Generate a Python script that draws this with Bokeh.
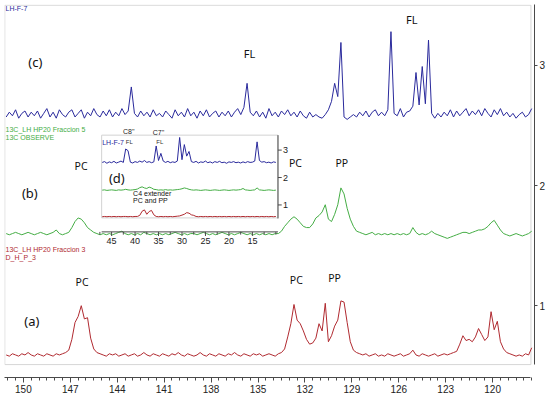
import numpy as np
from bokeh.plotting import figure
from bokeh.models import Range1d, FixedTicker
from bokeh.core.properties import value
from bokeh.embed import file_html
from bokeh.resources import INLINE

# ---------------- data ----------------
# main spectra: sampled every 0.2 ppm from 151.1 down to 117.5 ppm
ppm_first, ppm_step, ppm_count = 151.1, 0.2, 169

spec_c_blue = [
    2.57, 2.61, 2.58, 2.63, 2.56, 2.60, 2.62, 2.57, 2.61, 2.58,
    2.62, 2.56, 2.60, 2.64, 2.57, 2.61, 2.56, 2.63, 2.59, 2.57,
    2.61, 2.63, 2.57, 2.60, 2.63, 2.56, 2.61, 2.58, 2.64, 2.59,
    2.57, 2.62, 2.58, 2.63, 2.57, 2.61, 2.58, 2.64, 2.59, 2.62,
    2.82, 2.60, 2.57, 2.62, 2.58, 2.61, 2.57, 2.63, 2.58, 2.60,
    2.57, 2.62, 2.59, 2.56, 2.63, 2.58, 2.61, 2.57, 2.64, 2.58,
    2.61, 2.56, 2.62, 2.58, 2.63, 2.57, 2.60, 2.62, 2.57, 2.61,
    2.58, 2.62, 2.57, 2.61, 2.64, 2.59, 2.65, 2.85, 2.61, 2.58,
    2.62, 2.57, 2.61, 2.56, 2.64, 2.58, 2.61, 2.57, 2.62, 2.59,
    2.63, 2.58, 2.61, 2.57, 2.62, 2.58, 2.56, 2.61, 2.57, 2.59,
    2.57, 2.56, 2.59, 2.63, 2.70, 2.85, 2.74, 3.19, 2.57, 2.55,
    2.57, 2.59, 2.57, 2.61, 2.58, 2.62, 2.57, 2.61, 2.63, 2.58,
    2.61, 2.58, 2.63, 3.28, 2.60, 2.58, 2.64, 2.57, 2.61, 2.62,
    2.66, 2.94, 2.67, 2.99, 2.68, 3.21, 2.60, 2.56, 2.60, 2.57,
    2.61, 2.58, 2.63, 2.57, 2.62, 2.58, 2.61, 2.64, 2.58, 2.62,
    2.59, 2.63, 2.58, 2.64, 2.60, 2.57, 2.63, 2.59, 2.64, 2.58,
    2.61, 2.57, 2.60, 2.56, 2.59, 2.61, 2.57, 2.59, 2.64,
]

spec_b_green = [
    1.60, 1.59, 1.60, 1.61, 1.60, 1.59, 1.60, 1.61, 1.60, 1.59,
    1.60, 1.61, 1.60, 1.59, 1.60, 1.61, 1.63, 1.60, 1.59, 1.60,
    1.61, 1.65, 1.70, 1.73, 1.72, 1.69, 1.65, 1.63, 1.61, 1.60,
    1.59, 1.60, 1.59, 1.60, 1.59, 1.60, 1.61, 1.62, 1.60, 1.59,
    1.60, 1.59, 1.60, 1.59, 1.61, 1.60, 1.59, 1.60, 1.59, 1.60,
    1.59, 1.60, 1.59, 1.60, 1.61, 1.60, 1.59, 1.60, 1.59, 1.60,
    1.60, 1.59, 1.60, 1.61, 1.60, 1.59, 1.60, 1.59, 1.60, 1.61,
    1.60, 1.59, 1.60, 1.59, 1.60, 1.61, 1.60, 1.59, 1.60, 1.59,
    1.60, 1.59, 1.60, 1.59, 1.60, 1.59, 1.60, 1.60, 1.62, 1.66,
    1.69, 1.72, 1.74, 1.72, 1.69, 1.66, 1.65, 1.65, 1.68, 1.73,
    1.75, 1.78, 1.84, 1.72, 1.70, 1.76, 1.84, 1.98, 1.93, 1.81,
    1.72, 1.66, 1.62, 1.61, 1.60, 1.59, 1.60, 1.61, 1.59, 1.60,
    1.59, 1.60, 1.59, 1.60, 1.59, 1.60, 1.59, 1.60, 1.59, 1.60,
    1.65, 1.61, 1.59, 1.60, 1.59, 1.60, 1.62, 1.60, 1.59, 1.58,
    1.57, 1.56, 1.57, 1.58, 1.59, 1.60, 1.61, 1.61, 1.60, 1.61,
    1.62, 1.63, 1.63, 1.64, 1.66, 1.69, 1.71, 1.67, 1.63, 1.60,
    1.59, 1.58, 1.59, 1.60, 1.59, 1.58, 1.59, 1.60, 1.62,
]

spec_a_red = [
    0.59, 0.58, 0.60, 0.59, 0.58, 0.60, 0.59, 0.61, 0.59, 0.58,
    0.60, 0.59, 0.58, 0.60, 0.59, 0.58, 0.60, 0.59, 0.60, 0.61,
    0.63, 0.72, 0.86, 0.91, 1.00, 0.89, 0.90, 0.73, 0.64, 0.61,
    0.60, 0.59, 0.58, 0.60, 0.59, 0.60, 0.58, 0.59, 0.60, 0.58,
    0.59, 0.60, 0.58, 0.59, 0.61, 0.59, 0.58, 0.60, 0.59, 0.58,
    0.60, 0.59, 0.58, 0.60, 0.59, 0.61, 0.59, 0.58, 0.60, 0.59,
    0.58, 0.59, 0.61, 0.59, 0.58, 0.60, 0.59, 0.58, 0.60, 0.59,
    0.58, 0.60, 0.59, 0.61, 0.59, 0.58, 0.60, 0.59, 0.58, 0.60,
    0.59, 0.60, 0.58, 0.59, 0.60, 0.59, 0.58, 0.60, 0.61, 0.64,
    0.74, 0.85, 1.01, 0.88, 0.85, 0.79, 0.72, 0.68, 0.69, 0.73,
    0.85, 0.79, 1.02, 0.70, 0.75, 0.83, 0.88, 1.04, 1.03, 0.86,
    0.70, 0.63, 0.61, 0.60, 0.59, 0.60, 0.58, 0.59, 0.60, 0.58,
    0.59, 0.58, 0.60, 0.59, 0.58, 0.59, 0.60, 0.58, 0.59, 0.60,
    0.63, 0.59, 0.58, 0.60, 0.59, 0.58, 0.59, 0.60, 0.58, 0.59,
    0.60, 0.59, 0.60, 0.61, 0.62, 0.68, 0.75, 0.71, 0.72, 0.70,
    0.74, 0.81, 0.76, 0.71, 0.74, 0.95, 0.80, 0.87, 0.70, 0.64,
    0.61, 0.60, 0.59, 0.58, 0.59, 0.58, 0.60, 0.59, 0.65,
]

main_xticks = [150, 147, 144, 141, 138, 135, 132, 129, 126, 123, 120]
main_yticks = [1, 2, 3]

# inset (aliphatic region): sampled every 0.5 ppm from 47.0 down to 10.0 ppm
inset_first, inset_step, inset_count = 47.0, 0.5, 75

inset_blue = [
    2.55, 2.58, 2.52, 2.57, 2.54, 2.59, 2.53, 2.56, 2.60, 2.55,
    3.04, 2.98, 2.56, 2.53, 2.58, 2.55, 2.60, 2.56, 2.62, 2.55,
    2.58, 2.54, 2.57, 3.15, 2.62, 2.88, 2.60, 2.55, 2.59, 2.54,
    2.57, 2.55, 2.60, 3.46, 2.65, 3.20, 2.78, 2.95, 2.58, 2.55,
    2.59, 2.53, 2.57, 2.55, 2.60, 2.54, 2.57, 2.53, 2.58, 2.55,
    2.59, 2.54, 2.56, 2.52, 2.57, 2.55, 2.58, 2.54, 2.56, 2.53,
    2.57, 2.54, 2.58, 2.55, 2.56, 2.60, 3.30, 2.62, 2.56, 2.58,
    2.54, 2.56, 2.53, 2.57, 2.55,
]
inset_green = [
    1.54, 1.55, 1.53, 1.54, 1.55, 1.54, 1.53, 1.55, 1.54, 1.55,
    1.57, 1.55, 1.54, 1.55, 1.56, 1.58, 1.63, 1.66, 1.62, 1.60,
    1.65, 1.62, 1.57, 1.56, 1.54, 1.55, 1.54, 1.56, 1.54, 1.55,
    1.54, 1.55, 1.56, 1.57, 1.59, 1.62, 1.60, 1.57, 1.55, 1.54,
    1.55, 1.54, 1.53, 1.54, 1.55, 1.54, 1.53, 1.54, 1.55, 1.54,
    1.53, 1.54, 1.55, 1.54, 1.53, 1.54, 1.55, 1.54, 1.55, 1.56,
    1.60, 1.55, 1.54, 1.53, 1.54, 1.55, 1.62, 1.55, 1.54, 1.53,
    1.54, 1.55, 1.54, 1.53, 1.54,
]
inset_red = [
    0.57, 0.58, 0.57, 0.58, 0.57, 0.58, 0.57, 0.58, 0.57, 0.58,
    0.58, 0.57, 0.58, 0.57, 0.58, 0.58, 0.62, 0.77, 0.82, 0.66,
    0.76, 0.80, 0.64, 0.58, 0.57, 0.58, 0.57, 0.58, 0.57, 0.58,
    0.57, 0.58, 0.59, 0.60, 0.63, 0.66, 0.72, 0.70, 0.64, 0.62,
    0.58, 0.57, 0.58, 0.57, 0.58, 0.57, 0.58, 0.57, 0.58, 0.57,
    0.58, 0.57, 0.58, 0.57, 0.58, 0.57, 0.58, 0.57, 0.58, 0.57,
    0.58, 0.57, 0.58, 0.57, 0.58, 0.57, 0.58, 0.57, 0.58, 0.57,
    0.58, 0.57, 0.58, 0.57, 0.58,
]
inset_xticks = [45, 40, 35, 30, 25, 20, 15]
inset_xminor = [47.5, 42.5, 37.5, 32.5, 27.5, 22.5, 17.5, 12.5, 10]
inset_yticks = [1, 2, 3]

# ---------------- styling ----------------
BLUE, GREEN, RED = "#2a2a9c", "#45ad45", "#b02a30"
AX = "#4a4a4a"
F_TICK = value("Liberation Sans")
F_LAB = value("Noto Sans")

ppm = np.round(ppm_first - ppm_step * np.arange(ppm_count), 2)
ippm = np.round(inset_first - inset_step * np.arange(inset_count), 2)

X0, X1 = 151.208, 117.323
Y0, Y1 = 0.4025, 3.506

p = figure(width=548, height=396, x_range=Range1d(X0, X1), y_range=Range1d(Y0, Y1),
           y_axis_location="right", output_backend="svg", toolbar_location=None,
           min_border_left=4, min_border_right=12, min_border_top=4, min_border_bottom=19)
p.outline_line_color = None
p.grid.visible = False
p.background_fill_color = "white"
p.border_fill_color = "white"

xa = p.xaxis[0]
xa.ticker = FixedTicker(ticks=main_xticks, minor_ticks=list(np.arange(117.5, 151.01, 0.5)))
xa.bounds = (117.55, 151.2)
xa.axis_line_color = AX
xa.major_tick_line_color = AX
xa.minor_tick_line_color = AX
xa.major_tick_in = 0
xa.major_tick_out = 5
xa.minor_tick_in = 0
xa.minor_tick_out = 3
xa.major_label_standoff = 2
xa.major_label_text_font = "Liberation Sans"
xa.major_label_text_font_size = "10px"
xa.major_label_text_color = "#222222"

ya = p.yaxis[0]
ya.ticker = FixedTicker(ticks=main_yticks)
ya.bounds = (0.51, Y1)
ya.axis_line_color = AX
ya.major_tick_line_color = AX
ya.major_tick_in = 0
ya.major_tick_out = 3
ya.minor_tick_out = 0
ya.minor_tick_in = 0
ya.major_label_standoff = 2
ya.major_label_text_font = "Liberation Sans"
ya.major_label_text_font_size = "10px"
ya.major_label_text_color = "#222222"

# light frame of the main panel
p.quad(left=[151.19], right=[117.55], bottom=[0.51], top=[3.500],
       fill_color=None, line_color="#d6d6d6", line_width=1)

# main spectra
p.line(ppm, spec_c_blue, line_color=BLUE, line_width=1)
p.line(ppm, spec_b_green, line_color=GREEN, line_width=1)
p.line(ppm, spec_a_red, line_color=RED, line_width=1)


def lab(x, y, t, size, color="#111111", align="center", font=F_LAB, **kw):
    p.text(x=[x], y=[y], text=[t], text_font=font, text_font_size=size,
           text_color=color, text_align=align, text_baseline="middle", **kw)


lab(151.14, 3.473, "LH-F-7", "7px", BLUE, "left", F_TICK)
lab(149.24, 3.025, "(c)", "13px")
lab(135.54, 3.10, "FL", "11px")
lab(125.17, 3.382, "FL", "11px")
lab(151.14, 2.469, "13C_LH HP20 Fraccion 5", "7px", GREEN, "left", F_TICK)
lab(151.14, 2.398, "13C OBSERVE", "7px", GREEN, "left", F_TICK)
lab(146.31, 2.162, "PC", "10.5px")
lab(149.59, 1.938, "(b)", "13px")
lab(132.61, 2.191, "PC", "10.5px")
lab(129.64, 2.191, "PP", "10.5px")
lab(151.14, 1.469, "13C_LH HP20 Fraccion 3", "7px", RED, "left", F_TICK)
lab(151.14, 1.398, "D_H_P_3", "7px", RED, "left", F_TICK)
lab(146.25, 1.195, "PC", "10.5px")
lab(149.46, 0.871, "(a)", "13px")
lab(132.55, 1.212, "PC", "10.5px")
lab(130.11, 1.227, "PP", "10.5px")

# ---------------- inset, drawn through its own extra ranges ----------------
def span(m_a, m_b, i_a, i_b, lo, hi):
    k = (i_b - i_a) / (m_b - m_a)
    return Range1d(i_a + (lo - m_a) * k, i_a + (hi - m_a) * k)


p.extra_x_ranges = {"ix": span(144.361, 135.359, 45, 15, X0, X1)}
p.extra_y_ranges = {"iy": span(1.8382, 2.2946, 1, 3, Y0, Y1)}
IR = dict(x_range_name="ix", y_range_name="iy")

IL, IRT, IB, IT, IAX = 47.12, 9.55, 0.527, 3.545, 0.018
p.quad(left=[IL], right=[IRT], bottom=[IB], top=[IT], fill_color="white",
       line_color="#d2d2d2", line_width=1, **IR)

p.line(ippm, inset_blue, line_color=BLUE, line_width=1, **IR)
p.line(ippm, inset_green, line_color=GREEN, line_width=1, **IR)
p.line(ippm, inset_red, line_color=RED, line_width=1, **IR)

# inset x axis
p.line([IL, IRT], [IAX, IAX], line_color=AX, line_width=1, **IR)
p.segment(x0=inset_xticks, y0=[IAX] * len(inset_xticks), x1=inset_xticks,
          y1=[IAX - 0.15] * len(inset_xticks), line_color=AX, line_width=1, **IR)
p.segment(x0=inset_xminor, y0=[IAX] * len(inset_xminor), x1=inset_xminor,
          y1=[IAX - 0.10] * len(inset_xminor), line_color=AX, line_width=1, **IR)
p.text(x=inset_xticks, y=[-0.31] * len(inset_xticks), text=[str(t) for t in inset_xticks],
       text_font=F_TICK, text_font_size="9px", text_color="#222222",
       text_align="center", text_baseline="middle", **IR)

# inset right axis
p.line([IRT, IRT], [IB - 0.02, IT], line_color=AX, line_width=1, **IR)
p.segment(x0=[IRT] * 3, y0=inset_yticks, x1=[IRT - 0.8] * 3, y1=inset_yticks,
          line_color=AX, line_width=1, **IR)
p.text(x=[8.5] * 3, y=inset_yticks, text=[str(t) for t in inset_yticks],
       text_font=F_TICK, text_font_size="9px", text_color="#222222",
       text_align="left", text_baseline="middle", **IR)


def ilab(x, y, t, size, color="#111111", align="center", font=F_TICK):
    p.text(x=[x], y=[y], text=[t], text_font=font, text_font_size=size,
           text_color=color, text_align=align, text_baseline="middle", **IR)


ilab(47.0, 3.29, "LH-F-7", "7px", BLUE, "left")
ilab(41.33, 3.67, "C8''", "7px", "#222222")
ilab(41.23, 3.28, "FL", "6px", "#333333")
ilab(34.98, 3.655, "C7''", "7px", "#222222")
ilab(34.72, 3.28, "FL", "6px", "#333333")
ilab(43.88, 2.0, "(d)", "13px", "#111111", "center", F_LAB)
ilab(40.42, 1.425, "C4 extender", "7px", "#111111", "left")
ilab(40.42, 1.145, "PC and PP", "7px", "#111111", "left")

open("out.html", "w").write(file_html(p, INLINE))
